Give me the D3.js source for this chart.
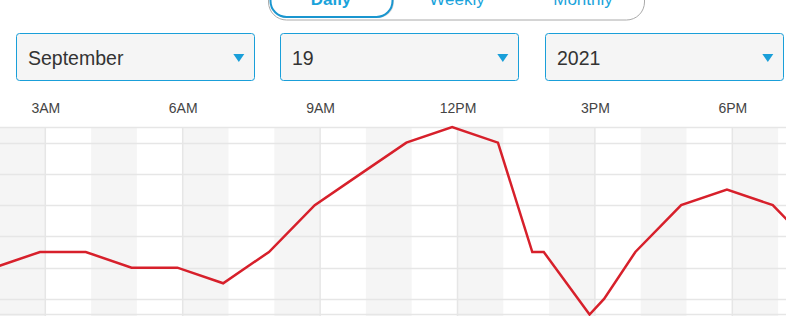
<!DOCTYPE html>
<html><head><meta charset="utf-8">
<script src="https://cdn.jsdelivr.net/npm/d3@7"></script>
<style>
html,body{margin:0;padding:0;background:#fff;overflow:hidden;}
svg{display:block;font-family:"Liberation Sans",Arial,sans-serif;}
</style></head>
<body>
<svg id="chart" width="786" height="316"></svg>
<script>
// ---- data ----
const toggleLabels = ["Daily", "Weekly", "Monthly"];
const selectLabels = ["September", "19", "2021"];
const obsTimes = ["01:53","02:53","03:53","04:53","05:53","06:53","07:53","08:53","09:53","10:53","11:53","12:53","13:38","13:53","14:53","15:12","15:53","16:53","17:53","18:53","19:53"];
const obsValues = [62,63,63,62,62,61,63,66,68,70,71,70,63,63,59,60,63,66,67,66,63];
const tickHours = [3,6,9,12,15,18,21];
const tickLabels = ["3AM","6AM","9AM","12PM","3PM","6PM","9PM"];
const gridValues = [60,62,64,66,68,70];

const svg = d3.select("#chart");
const W = 786;
const blue = "#1a9fd9";

// ---- toggle ----
const tg = svg.append("g");
tg.append("rect").attr("x",268.5).attr("y",-30).attr("width",376).attr("height",50).attr("rx",18)
  .attr("fill","#fff").attr("stroke","#aaa").attr("stroke-width",1);
tg.append("rect").attr("x",271).attr("y",-29).attr("width",123).attr("height",47).attr("rx",16)
  .attr("fill","#999").attr("opacity",0.35);
tg.append("rect").attr("x",270.5).attr("y",-30).attr("width",122).attr("height",47).attr("rx",16)
  .attr("fill","#fff").attr("stroke","#1a96cf").attr("stroke-width",2);
const tgx = [331, 457, 583];
tg.selectAll("text.tg").data(toggleLabels).join("text").attr("class","tg")
  .attr("x",(d,i)=>tgx[i]).attr("y",5).attr("text-anchor","middle")
  .attr("font-size",17).attr("font-weight",(d,i)=>i===0?"bold":"normal")
  .attr("fill","#1aa3db").text(d=>d);

// ---- selects ----
const boxX = [16.5, 280.5, 545.5];
const sg = svg.append("g");
selectLabels.forEach((lab,i)=>{
  const g = sg.append("g").attr("transform",`translate(${boxX[i]},33.5)`);
  g.append("rect").attr("width",238).attr("height",47).attr("rx",3)
    .attr("fill","#f5f5f5").attr("stroke",blue).attr("stroke-width",1);
  g.append("text").attr("x",11.5).attr("y",31.3).attr("font-size",19.5).attr("fill","#333").text(lab);
  g.append("path").attr("d","M216.8,20.5 L227.8,20.5 L222.3,28.5 Z").attr("fill",blue);
});

// ---- chart ----
const plotTop = 127, plotBottom = 314.5;
const x = d3.scaleLinear().domain([0,24]).range([45.3-3*45.8, 45.3+21*45.8]);
const y = d3.scaleLinear().domain([59,71]).range([plotBottom, plotTop]);
const parse = s => { const [h,m] = s.split(":").map(Number); return h + m/60; };
const data = obsTimes.map((t,i)=>({h:parse(t), v:obsValues[i]}));

const cg = svg.append("g");
// bands
const hours = d3.range(0,24);
cg.selectAll("rect.band").data(hours.filter(h=>h%2===0)).join("rect").attr("class","band")
  .attr("x",h=>x(h)).attr("width",h=>x(h+1)-x(h)).attr("y",plotTop).attr("height",plotBottom-plotTop+5)
  .attr("fill","#f5f5f5");
// horizontal grid
cg.selectAll("line.hg").data(gridValues).join("line").attr("class","hg")
  .attr("x1",0).attr("x2",W).attr("y1",d=>Math.round(y(d))+0.5).attr("y2",d=>Math.round(y(d))+0.5)
  .attr("stroke","#e6e6e6").attr("stroke-width",1.5);
// vertical grid at ticks
cg.selectAll("line.vg").data(tickHours).join("line").attr("class","vg")
  .attr("x1",d=>x(d)).attr("x2",d=>x(d)).attr("y1",plotTop).attr("y2",plotBottom+5)
  .attr("stroke","#e6e6e6").attr("stroke-width",1.5);
// top and bottom borders
cg.append("line").attr("x1",0).attr("x2",W).attr("y1",plotTop+0.5).attr("y2",plotTop+0.5)
  .attr("stroke","#e6e6e6").attr("stroke-width",1.5);
cg.append("line").attr("x1",0).attr("x2",W).attr("y1",plotBottom).attr("y2",plotBottom)
  .attr("stroke","#e6e6e6").attr("stroke-width",1.5);

// axis labels
const axis = d3.axisTop(x).tickValues(tickHours).tickSize(0)
  .tickFormat((d,i)=>tickLabels[i]);
const ag = svg.append("g").attr("transform",`translate(0,${plotTop-11})`).call(axis);
ag.select(".domain").remove();
ag.selectAll("text").attr("font-size",14).attr("fill","#444").attr("dy",0)
  .attr("font-family","'Liberation Sans',Arial,sans-serif");

// line
const line = d3.line().x(d=>x(d.h)).y(d=>y(d.v));
svg.append("path").datum(data).attr("d",line).attr("fill","none")
  .attr("stroke","#d7202b").attr("stroke-width",2.5).attr("stroke-linejoin","miter");
</script>
</body></html>
